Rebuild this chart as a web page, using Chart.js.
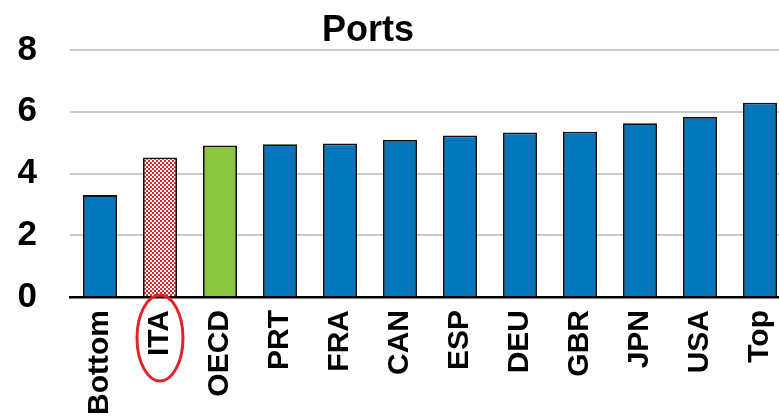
<!DOCTYPE html>
<html>
<head>
<meta charset="utf-8">
<script src="https://cdn.jsdelivr.net/npm/chart.js@4.4.0/dist/chart.umd.min.js"></script>
<style>
  html, body { margin: 0; padding: 0; background: #fff; overflow: hidden; }
</style>
</head>
<body>
<canvas id="portsChart" width="792" height="418"></canvas>
<script>
const countries = ['Bottom', 'ITA', 'OECD', 'PRT', 'FRA', 'CAN', 'ESP', 'DEU', 'GBR', 'JPN', 'USA', 'Top'];
const scores = [3.3, 4.52, 4.91, 4.95, 4.97, 5.09, 5.23, 5.33, 5.35, 5.63, 5.83, 6.29];
const yTicks = [0, 2, 4, 6, 8];
const chartTitle = 'Ports';
const highlight = 'ITA';
const average = 'OECD';

const FONT = "'Liberation Sans', Arial, sans-serif";

// red/white checkerboard fill for the highlighted country
function checkerPattern() {
  const c = document.createElement('canvas');
  c.width = 4; c.height = 4;
  const g = c.getContext('2d');
  g.fillStyle = '#ffffff';
  g.fillRect(0, 0, 4, 4);
  g.fillStyle = '#e2232b';
  g.fillRect(0, 0, 2, 2);
  g.fillRect(2, 2, 2, 2);
  return document.getElementById('portsChart').getContext('2d').createPattern(c, 'repeat');
}

const pattern = checkerPattern();
const barColors = countries.map(c => c === highlight ? pattern : c === average ? '#8cc63f' : '#0077bd');

// title plus the red ring round the highlighted label
const extras = {
  id: 'extras',
  afterDraw(chart) {
    const ctx = chart.ctx;
    ctx.save();
    ctx.fillStyle = '#000';
    ctx.font = 'bold 36px ' + FONT;
    ctx.textAlign = 'center';
    ctx.textBaseline = 'alphabetic';
    ctx.fillText(chartTitle, 368, 41);

    const x = chart.scales.x.getPixelForValue(countries.indexOf(highlight));
    ctx.strokeStyle = '#e2232b';
    ctx.lineWidth = 3;
    ctx.beginPath();
    ctx.ellipse(x, 338, 23, 43, 0, 0, Math.PI * 2);
    ctx.stroke();
    ctx.restore();
  }
};

new Chart(document.getElementById('portsChart'), {
  type: 'bar',
  data: {
    labels: countries,
    datasets: [{
      data: scores,
      backgroundColor: barColors,
      borderColor: '#111',
      borderWidth: 1.8,
      barPercentage: 0.567,
      categoryPercentage: 1
    }]
  },
  options: {
    responsive: false,
    animation: false,
    layout: { padding: { top: 50, left: 0, right: 2, bottom: 0 } },
    plugins: {
      legend: { display: false },
      tooltip: { enabled: false }
    },
    scales: {
      x: {
        grid: { display: false, drawTicks: false },
        border: { display: true, color: '#000', width: 2.5 },
        afterFit: s => {
          s.height = 121;
          s.paddingLeft = 0;
          s.paddingRight = 0;
        },
        ticks: {
          color: '#000',
          font: { family: FONT, size: 30, weight: 'bold' },
          minRotation: 90,
          maxRotation: 90,
          autoSkip: false,
          padding: 13
        }
      },
      y: {
        min: 0,
        max: 8,
        afterBuildTicks: s => { s.ticks = yTicks.map(v => ({ value: v })); },
        afterFit: s => {
          s.width = 70;
          s.paddingTop = 0;
          s.paddingBottom = 0;
        },
        grid: { color: '#c8c8c8', lineWidth: 2, drawTicks: false },
        border: { display: false },
        ticks: {
          color: '#000',
          font: { family: FONT, size: 35, weight: 'bold' },
          padding: 33
        }
      }
    }
  },
  plugins: [extras]
});
</script>
</body>
</html>
